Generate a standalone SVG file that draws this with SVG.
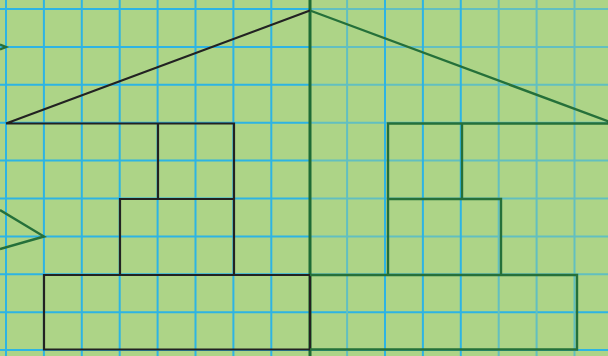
<svg xmlns="http://www.w3.org/2000/svg" width="608" height="356" viewBox="0 0 608 356">
<style>
.g{stroke:#2db4e4;stroke-width:2;fill:none}
.t{stroke:#62bfc0;stroke-width:2;fill:none}
.k{stroke:#222;stroke-width:2.2;fill:none;stroke-linejoin:miter}
.r{stroke:#25703a;stroke-width:2.4;fill:none;stroke-linejoin:miter}
</style>
<rect width="608" height="356" fill="#add487"/>
<g id="grid">
<path class="g" d="M6 0V356M43.9 0V356M81.8 0V356M119.7 0V356M157.6 0V356M195.5 0V356M233.4 0V356M271.3 0V356M0 9H310M0 46.9H310M0 84.8H310M0 122.7H310M0 160.6H310M0 198.5H310M0 236.4H310M0 274.3H310M0 312.2H608M0 350.1H608"/>
<path class="t" d="M347.1 0V356M498.7 0V356M536.6 0V356M574.5 0V356M310 9H608M310 46.9H608M310 84.8H608M310 122.7H608M310 160.6H608M310 198.5H608M310 236.4H608M310 274.3H608"/>
<path class="g" d="M385 0V356M422.9 0V356M460.8 0V356"/>
</g>
<g id="axis"><line x1="310" y1="0" x2="310" y2="356" stroke="#1d6b35" stroke-width="3"/></g>
<g id="left-figure">
<path class="k" d="M6 123.5L310 10.5M6 123.5H234V275M158 123.5V199M120 275V199H234M44 275H310V349.5H44Z"/>
</g>
<g id="right-figure">
<path class="r" d="M310 10.5L614 123.5M608 123.5H388V275M462 123.5V199M388 199H501V275M310 275H577V349.5H310"/>
</g>
<g id="edge-marks">
<path class="r" d="M0 44.5L6 47L0 49.5"/>
<path class="r" d="M0 210L44 236.5L0 249"/>
</g>
</svg>
